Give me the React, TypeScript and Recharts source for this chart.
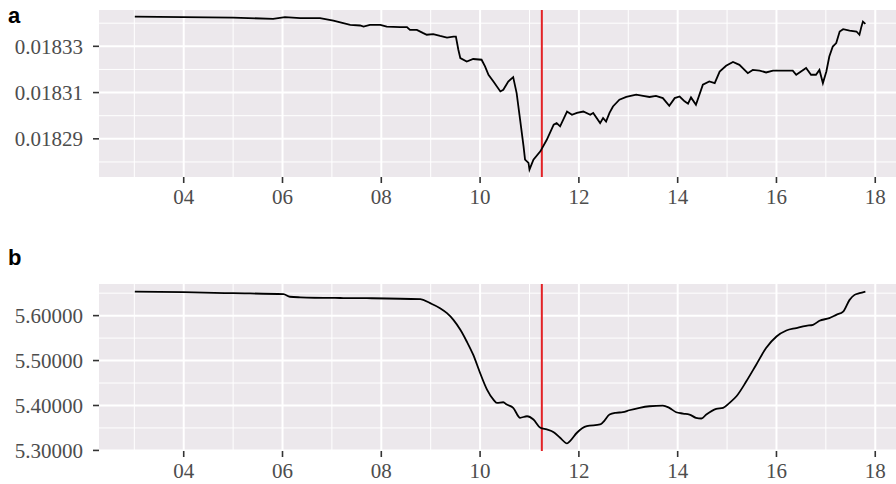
import React from 'react';
import { LineChart, Line, XAxis, YAxis, CartesianGrid, ReferenceLine } from 'recharts';

// ---- data ----
const xMajorTicks = [4, 6, 8, 10, 12, 14, 16, 18];
const xMinorTicks = [3, 5, 7, 9, 11, 13, 15, 17];
const eventHour = 11.25;

const hoursA = [3.01, 3.99, 5.00, 5.81, 6.05, 6.36, 6.76, 7.03, 7.23, 7.37, 7.57, 7.64, 7.77, 7.98, 8.11, 8.38, 8.52, 8.58, 8.72, 8.85, 8.92, 9.05, 9.19, 9.33, 9.46, 9.51, 9.56, 9.60, 9.73, 9.86, 10.03, 10.10, 10.17, 10.27, 10.41, 10.47, 10.57, 10.67, 10.74, 10.81, 10.88, 10.91, 10.98, 11.00, 11.08, 11.22, 11.35, 11.49, 11.55, 11.62, 11.76, 11.86, 11.96, 12.09, 12.23, 12.29, 12.43, 12.49, 12.55, 12.62, 12.69, 12.82, 12.96, 13.16, 13.30, 13.43, 13.56, 13.70, 13.83, 13.94, 14.04, 14.14, 14.21, 14.27, 14.37, 14.51, 14.64, 14.75, 14.85, 14.98, 15.12, 15.25, 15.42, 15.52, 15.66, 15.79, 15.93, 16.33, 16.40, 16.60, 16.70, 16.80, 16.87, 16.94, 17.01, 17.07, 17.14, 17.21, 17.28, 17.35, 17.48, 17.62, 17.68, 17.72, 17.75, 17.80];
const valuesA = [0.0183428, 0.0183426, 0.0183424, 0.0183419, 0.0183426, 0.0183422, 0.0183422, 0.0183411, 0.0183400, 0.0183393, 0.0183390, 0.0183385, 0.0183393, 0.0183393, 0.0183385, 0.0183383, 0.0183383, 0.0183371, 0.0183371, 0.0183357, 0.0183350, 0.0183353, 0.0183345, 0.0183338, 0.0183342, 0.0183342, 0.0183285, 0.0183249, 0.0183234, 0.0183245, 0.0183242, 0.0183213, 0.0183177, 0.0183148, 0.0183105, 0.0183112, 0.0183148, 0.0183167, 0.0183098, 0.0182983, 0.0182867, 0.0182810, 0.0182796, 0.0182767, 0.0182810, 0.0182846, 0.0182896, 0.0182961, 0.0182968, 0.0182954, 0.0183018, 0.0183004, 0.0183012, 0.0183018, 0.0183004, 0.0183012, 0.0182968, 0.0182990, 0.0182975, 0.0183012, 0.0183040, 0.0183069, 0.0183081, 0.0183091, 0.0183086, 0.0183081, 0.0183086, 0.0183076, 0.0183043, 0.0183076, 0.0183083, 0.0183062, 0.0183052, 0.0183079, 0.0183047, 0.0183134, 0.0183148, 0.0183141, 0.0183191, 0.0183216, 0.0183232, 0.0183220, 0.0183184, 0.0183198, 0.0183195, 0.0183187, 0.0183195, 0.0183195, 0.0183177, 0.0183206, 0.0183177, 0.0183177, 0.0183198, 0.0183141, 0.0183191, 0.0183256, 0.0183299, 0.0183314, 0.0183364, 0.0183374, 0.0183368, 0.0183364, 0.0183350, 0.0183385, 0.0183407, 0.0183397];
const yMajorA = [0.01829, 0.01831, 0.01833];
const yMinorA = [0.01828, 0.0183, 0.01832, 0.01834];
const yDomainA = [0.0182735, 0.0183457];

const hoursB = [3.01, 3.99, 5.00, 6.02, 6.15, 6.36, 7.17, 7.71, 8.79, 8.99, 9.19, 9.33, 9.46, 9.60, 9.73, 9.86, 10.00, 10.14, 10.27, 10.34, 10.47, 10.54, 10.67, 10.81, 10.95, 11.08, 11.22, 11.35, 11.49, 11.62, 11.76, 11.82, 11.96, 12.16, 12.43, 12.49, 12.62, 12.75, 12.89, 13.02, 13.23, 13.43, 13.70, 13.83, 13.97, 14.11, 14.24, 14.37, 14.48, 14.58, 14.78, 14.92, 15.05, 15.19, 15.39, 15.59, 15.79, 16.00, 16.20, 16.40, 16.60, 16.74, 16.87, 17.07, 17.21, 17.35, 17.48, 17.58, 17.68, 17.80];
const valuesB = [5.6535, 5.6521, 5.6499, 5.6477, 5.6420, 5.6408, 5.6392, 5.6388, 5.6366, 5.6277, 5.6166, 5.6055, 5.5907, 5.5685, 5.5425, 5.5130, 5.4724, 5.4354, 5.4132, 5.4059, 5.4072, 5.4021, 5.3948, 5.3726, 5.3761, 5.3688, 5.3504, 5.3466, 5.3406, 5.3282, 5.3156, 5.3207, 5.3393, 5.3539, 5.3577, 5.3628, 5.3799, 5.3837, 5.3850, 5.3894, 5.3948, 5.3983, 5.3999, 5.3948, 5.3850, 5.3821, 5.3799, 5.3726, 5.3710, 5.3799, 5.3925, 5.3948, 5.4059, 5.4205, 5.4538, 5.4908, 5.5279, 5.5536, 5.5669, 5.5723, 5.5774, 5.5796, 5.5885, 5.5945, 5.6018, 5.6091, 5.6351, 5.6462, 5.6499, 5.6535];
const yMajorB = [5.3, 5.4, 5.5, 5.6];
const yMinorB = [5.35, 5.45, 5.55, 5.65];
const yDomainB = [5.2987, 5.6704];

const xDomain = [2.285, 18.42];

// ---- styles ----
const BG = '#ECE8EC';
const TICK_FONT = { fill: '#4D4D4D', fontSize: 21, fontFamily: 'Liberation Serif' };
const TICK_LINE = { stroke: '#333333', strokeWidth: 1.6 };

const fmtHour = (v: number) => String(v).padStart(2, '0');
const fmt5 = (v: number) => v.toFixed(5);

function Panel(props: {
  data: { h: number; v: number }[];
  height: number;
  top: number;
  yDomain: number[];
  yMajor: number[];
  yMinor: number[];
  smooth?: boolean;
}) {
  const { data, height, top, yDomain, yMajor, yMinor, smooth } = props;
  return (
    <LineChart width={896} height={height} data={data} margin={{ top, right: 0, bottom: 0, left: 0 }}>
      <CartesianGrid fill={BG} stroke="#FFFFFF" strokeWidth={1} horizontalValues={yMinor} verticalValues={xMinorTicks} />
      <CartesianGrid stroke="#FFFFFF" strokeWidth={2} horizontalValues={yMajor} verticalValues={xMajorTicks} />
      <XAxis
        type="number"
        dataKey="h"
        domain={xDomain}
        allowDataOverflow
        ticks={xMajorTicks}
        interval={0}
        tickFormatter={fmtHour}
        axisLine={false}
        tickSize={6}
        tickMargin={6}
        tickLine={TICK_LINE}
        tick={TICK_FONT}
        height={33}
      />
      <YAxis
        type="number"
        domain={yDomain}
        allowDataOverflow
        ticks={yMajor}
        interval={0}
        tickFormatter={fmt5}
        axisLine={false}
        tickSize={6}
        tickMargin={10}
        tickLine={TICK_LINE}
        tick={TICK_FONT}
        width={99}
      />
      <ReferenceLine x={eventHour} stroke="#E32226" strokeWidth={2} ifOverflow="hidden" />
      <Line
        type={smooth ? 'monotone' : 'linear'}
        dataKey="v"
        stroke="#000000"
        strokeWidth={1.8}
        dot={false}
        isAnimationActive={false}
      />
    </LineChart>
  );
}

export default function App() {
  const dataA = hoursA.map((h, i) => ({ h, v: valuesA[i] }));
  const dataB = hoursB.map((h, i) => ({ h, v: valuesB[i] }));
  return (
    <div style={{ position: 'absolute', left: 0, top: 0, width: 896, height: 484, background: '#FFFFFF', overflow: 'hidden' }}>
      <div style={{ position: 'absolute', left: 0, top: 0 }}>
        <Panel data={dataA} height={210} top={10} yDomain={yDomainA} yMajor={yMajorA} yMinor={yMinorA} />
      </div>
      <div style={{ position: 'absolute', left: 0, top: 240 }}>
        <Panel data={dataB} height={244} top={44} yDomain={yDomainB} yMajor={yMajorB} yMinor={yMinorB} smooth />
      </div>
      <svg width={896} height={484} style={{ position: 'absolute', left: 0, top: 0, pointerEvents: 'none' }}>
        <text x={8} y={23} fontFamily="Liberation Sans" fontWeight={700} fontSize={22} fill="#000">a</text>
        <text x={8} y={265} fontFamily="Liberation Sans" fontWeight={700} fontSize={22} fill="#000">b</text>
      </svg>
    </div>
  );
}
